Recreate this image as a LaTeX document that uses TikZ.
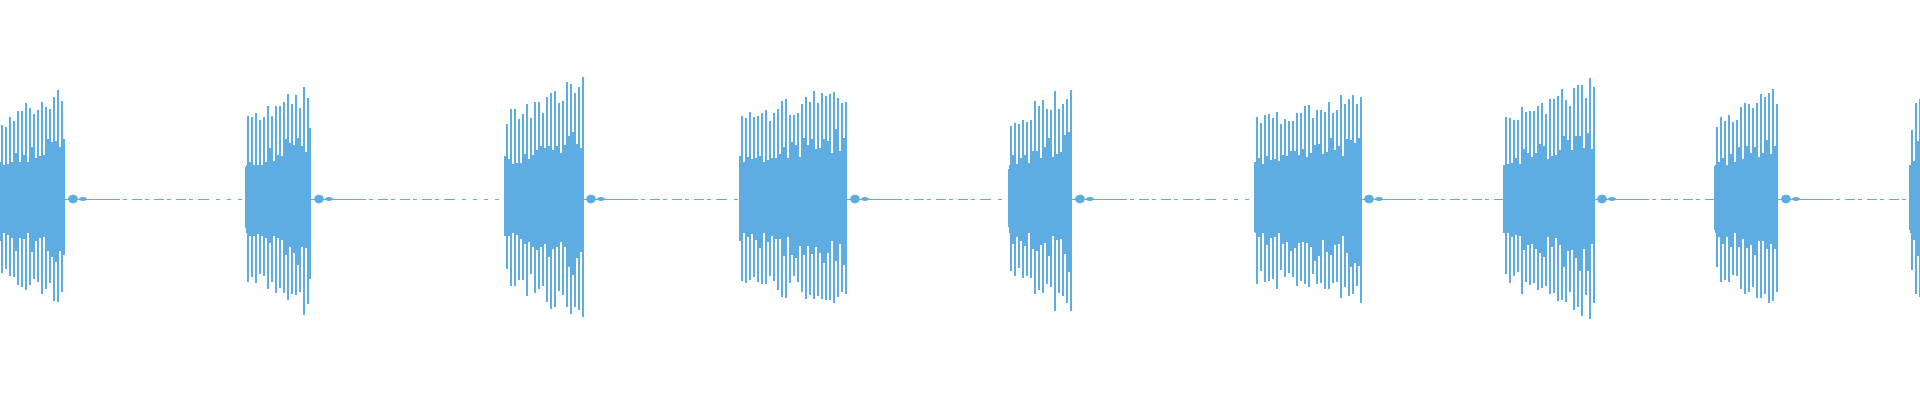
\documentclass[tikz,border=0pt]{standalone}
\definecolor{wave}{RGB}{93,173,226}
\begin{document}
\begin{tikzpicture}[x=1pt,y=-1pt]
\useasboundingbox[fill=white] (0,0) rectangle (1920,400);
\pgfmathsetseed{11}
\foreach \a/\b/\m in {0/65/116,246/311/119,505/583/124,740/847/121,1009/1072/119,1255/1361/115,1504/1594/124,1715/1778/115,1910/1921/110}{
  \pgfmathtruncatemacro\n{(\b-\a)/2}
  \foreach \i in {0,...,\n}{
    \pgfmathsetmacro\xx{\a+\i*2}
    \pgfmathtruncatemacro\odd{mod(\i,2)}
    \ifnum\odd=1
      \pgfmathsetmacro\h{\m*(0.72+0.28*\i/\n)*(0.8+0.2*rnd)}
      \pgfmathsetmacro\g{\h*(0.92+0.12*rnd)}
    \else
      \pgfmathsetmacro\h{\m*(0.3+0.2*\i/\n)*(0.8+0.4*rnd)}
      \pgfmathsetmacro\g{\h*(0.85+0.3*rnd)}
    \fi
    \draw[wave,line width=1.7pt] (\xx,199-\h) -- (\xx,199+\g);
  }
  \fill[wave] (\a,199-34) rectangle (\b,199+34);
  \fill[wave] (\b+8,199) ellipse (5 and 4.5);
  \fill[wave] (\b+18,199) ellipse (4 and 2);
  \draw[wave,line width=0.7pt] (\b,199) -- (\b+45,199);
  \draw[wave,line width=0.6pt,dash pattern=on 10pt off 3pt on 4pt off 5pt] (\b+45,199) -- (\b+140,199);
}
\draw[wave,line width=0.6pt,dash pattern=on 4pt off 7pt] (205,199) -- (246,199) (451,199) -- (505,199) (723,199) -- (740,199) (987,199) -- (1009,199) (1212,199) -- (1255,199) (1501,199) -- (1504,199) (1734,199) -- (1715,199) (1918,199) -- (1910,199);
\end{tikzpicture}
\end{document}
